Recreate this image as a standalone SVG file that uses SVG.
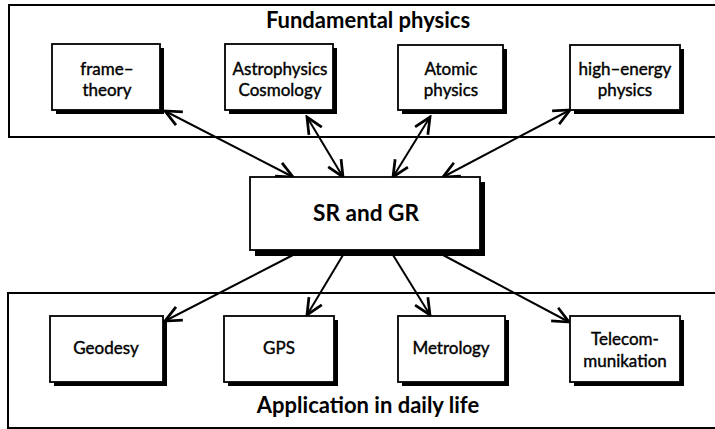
<svg xmlns="http://www.w3.org/2000/svg" width="715" height="429" viewBox="0 0 715 429">
<style>
.frame{fill:none;stroke:#000;stroke-width:2}
.shadow{fill:#000}
.box{fill:#fff;stroke:#000;stroke-width:1.8}
.lbl{font-family:Lato,"Liberation Sans",sans-serif;font-size:17px;fill:#000;stroke:#000;stroke-width:0.4;text-anchor:middle}
.title{font-family:Lato,"Liberation Sans",sans-serif;font-size:22px;font-weight:bold;fill:#000;text-anchor:middle}
.big{font-family:Lato,"Liberation Sans",sans-serif;font-size:22.6px;font-weight:bold;fill:#000;text-anchor:middle}
.conn line{stroke:#000;stroke-width:2}
</style>
<defs>
<marker id="ah" markerUnits="userSpaceOnUse" markerWidth="20" markerHeight="20" viewBox="-14 -8 16 16" refX="0" refY="0" orient="auto-start-reverse">
<path d="M-13,-6 L0,0 L-13,6" fill="none" stroke="#000" stroke-width="2.2"/>
</marker>
</defs>
<rect width="715" height="429" fill="#fff"/>
<g id="fundamental">
<rect class="frame" x="9" y="5" width="720" height="132"/>
<text class="title" x="368" y="28">Fundamental physics</text>
</g>
<g id="application">
<rect class="frame" x="8" y="293" width="720" height="135"/>
<text class="title" x="368" y="413">Application in daily life</text>
</g>
<g class="conn" id="connectors">
<line x1="165" y1="111" x2="293" y2="177" marker-start="url(#ah)" marker-end="url(#ah)"/>
<line x1="307" y1="117" x2="343" y2="177" marker-start="url(#ah)" marker-end="url(#ah)"/>
<line x1="430" y1="117" x2="393" y2="177" marker-start="url(#ah)" marker-end="url(#ah)"/>
<line x1="570" y1="110" x2="443" y2="177" marker-start="url(#ah)" marker-end="url(#ah)"/>
<line x1="293" y1="255" x2="165" y2="321" marker-end="url(#ah)"/>
<line x1="343" y1="255" x2="307" y2="315" marker-end="url(#ah)"/>
<line x1="393" y1="255" x2="430" y2="315" marker-end="url(#ah)"/>
<line x1="443" y1="255" x2="569" y2="322" marker-end="url(#ah)"/>
</g>
<g id="frame-theory">
<rect class="shadow" x="56" y="48" width="108" height="66"/>
<rect class="box" x="52" y="44" width="108" height="66"/>
<text class="lbl" x="107" y="75">frame–</text>
<text class="lbl" x="107" y="96">theory</text>
</g>
<g id="astrophysics">
<rect class="shadow" x="229" y="48" width="108" height="66"/>
<rect class="box" x="225" y="44" width="108" height="66"/>
<text class="lbl" x="280" y="75">Astrophysics</text>
<text class="lbl" x="280" y="96">Cosmology</text>
</g>
<g id="atomic">
<rect class="shadow" x="402" y="49" width="105" height="65"/>
<rect class="box" x="398" y="45" width="105" height="65"/>
<text class="lbl" x="451" y="75">Atomic</text>
<text class="lbl" x="451" y="96">physics</text>
</g>
<g id="high-energy">
<rect class="shadow" x="574" y="49" width="110" height="65"/>
<rect class="box" x="570" y="45" width="110" height="65"/>
<text class="lbl" x="625" y="75">high–energy</text>
<text class="lbl" x="625" y="96">physics</text>
</g>
<g id="sr-gr">
<rect class="shadow" x="255" y="182" width="230" height="74"/>
<rect class="box" x="250" y="177" width="230" height="73"/>
<text class="big" x="366" y="221">SR and GR</text>
</g>
<g id="geodesy">
<rect class="shadow" x="54" y="320" width="113" height="66"/>
<rect class="box" x="50" y="316" width="113" height="66"/>
<text class="lbl" x="106" y="354">Geodesy</text>
</g>
<g id="gps">
<rect class="shadow" x="228" y="320" width="110" height="66"/>
<rect class="box" x="224" y="316" width="110" height="66"/>
<text class="lbl" x="279" y="354">GPS</text>
</g>
<g id="metrology">
<rect class="shadow" x="402" y="320" width="107" height="66"/>
<rect class="box" x="398" y="316" width="107" height="66"/>
<text class="lbl" x="451" y="354">Metrology</text>
</g>
<g id="telecom">
<rect class="shadow" x="574" y="320" width="110" height="66"/>
<rect class="box" x="570" y="316" width="110" height="66"/>
<text class="lbl" x="625" y="345">Telecom-</text>
<text class="lbl" x="625" y="367">munikation</text>
</g>
</svg>
